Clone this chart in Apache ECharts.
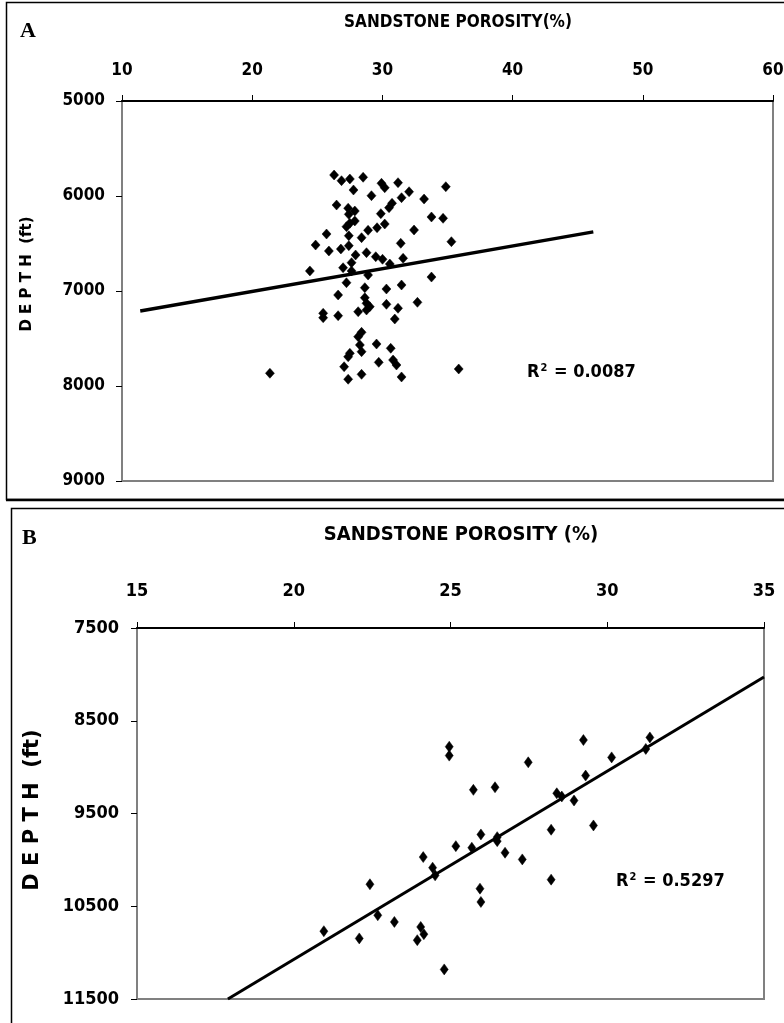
<!DOCTYPE html>
<html>
<head>
<meta charset="utf-8">
<script src="https://cdn.jsdelivr.net/npm/echarts@6/dist/echarts.min.js"></script>
<style>
  html, body { margin: 0; padding: 0; background: #fff; }
  #chart { width: 784px; height: 1023px; }
</style>
</head>
<body>
<div id="chart"></div>
<script>
// Panel A: porosity (%) vs depth (ft)
const porosityA = [
  26.29, 26.86, 27.50, 28.52, 27.78, 29.93, 30.18, 31.20, 29.16, 32.05,
  31.47, 33.20, 34.87, 30.74, 30.51, 26.48, 27.37, 27.88, 27.42, 29.88,
  33.77, 34.66, 27.88, 27.50, 27.24, 30.18, 29.59, 28.90, 32.43, 25.71,
  27.42, 28.40, 35.30, 24.87, 31.41, 25.89, 26.81, 27.42, 28.78, 27.94,
  29.49, 30.01, 31.59, 27.63, 30.57, 24.43, 26.98, 27.63, 28.90, 33.77,
  27.24, 28.65, 30.31, 31.47, 26.60, 28.65, 28.78, 29.03, 28.78, 28.14,
  30.31, 31.20, 32.69, 25.45, 25.45, 26.60, 30.95, 28.40, 28.14, 29.55,
  28.27, 28.40, 30.64, 27.50, 27.37, 29.72, 30.82, 31.08, 27.06, 21.36,
  35.86, 28.40, 27.37, 31.47
];
const depthA = [
  5779, 5839, 5821, 5803, 5937, 5866, 5913, 5860, 5997, 5955,
  6018, 6032, 5902, 6077, 6123, 6095, 6129, 6158, 6193, 6186,
  6221, 6235, 6263, 6287, 6323, 6295, 6334, 6361, 6358, 6400,
  6418, 6439, 6481, 6516, 6498, 6579, 6558, 6523, 6597, 6621,
  6639, 6666, 6656, 6702, 6716, 6789, 6755, 6789, 6832, 6853,
  6913, 6965, 6979, 6937, 7042, 7071, 7129, 7165, 7200, 7218,
  7140, 7182, 7119, 7235, 7281, 7260, 7295, 7435, 7481, 7558,
  7568, 7639, 7603, 7656, 7692, 7751, 7726, 7779, 7797, 7866,
  7821, 7877, 7929, 7905
];
// Linear fit for panel A: depth = intercept + slope * porosity
const fitA = { slope: -23.9, intercept: 7482, from: 11.4, to: 46.2 };
const r2A = '0.0087';
const xTicksA = { min: 10, max: 60, interval: 10 };
const yTicksA = { min: 5000, max: 9000, interval: 1000 };

// Panel B: porosity (%) vs depth (ft)
const porosityB = [
  20.96, 22.09, 22.43, 22.68, 23.21, 24.05, 24.15, 23.94, 24.80, 24.13,
  24.43, 24.51, 24.96, 24.96, 25.73, 26.42, 25.97, 25.94, 25.97, 26.49,
  26.49, 26.74, 27.29, 27.48, 28.21, 28.21, 28.39, 28.55, 28.94, 29.24,
  29.31, 29.56, 30.14, 31.23, 31.36, 25.17, 25.68
];
const depthB = [
  10769, 10847, 10263, 10597, 10669, 10723, 10801, 10866, 11181, 9970,
  10084, 10167, 8780, 8876, 9245, 9217, 9726, 10310, 10454, 9755,
  9798, 9923, 9995, 8948, 9675, 10213, 9282, 9317, 9360, 8708,
  9091, 9629, 8895, 8804, 8680, 9852, 9869
];
const fitB = { slope: -203, intercept: 15134, from: 17.9, to: 35 };
const r2B = '0.5297';
const xTicksB = { min: 15, max: 35, interval: 5 };
const yTicksB = { min: 7500, max: 11500, interval: 1000 };

const titleText = 'SANDSTONE POROSITY(%)';
const titleTextB = 'SANDSTONE POROSITY (%)';
const yName = 'D E P T H  (ft)';

const pts = (xs, ys) => xs.map((x, i) => [x, ys[i]]);
const fitLine = f => [[f.from, f.intercept + f.slope * f.from], [f.to, f.intercept + f.slope * f.to]];

const numFont = '"Liberation Sans Narrow", "DejaVu Sans Condensed", "Liberation Sans", sans-serif';
const gray = '#808080';
const plain = v => String(v);

function xAxisCfg(idx, t, size, margin) {
  return {
    gridIndex: idx, type: 'value', position: 'top',
    min: t.min, max: t.max, interval: t.interval,
    axisLine: { show: true, onZero: false, lineStyle: { color: '#000', width: 2 } },
    axisTick: { show: true, length: 6, lineStyle: { color: '#000', width: 1 } },
    axisLabel: { show: true, color: '#000', fontFamily: numFont, fontWeight: 'bold', fontSize: size, margin: margin, formatter: plain },
    splitLine: { show: false }
  };
}
function yAxisCfg(idx, t, size, margin) {
  return {
    gridIndex: idx, type: 'value', inverse: true,
    min: t.min, max: t.max, interval: t.interval,
    axisLine: { show: true, onZero: false, lineStyle: { color: gray, width: 2 } },
    axisTick: { show: true, length: 6, lineStyle: { color: '#000', width: 1 } },
    axisLabel: { show: true, color: '#000', fontFamily: numFont, fontWeight: 'bold', fontSize: size, margin: margin, formatter: plain },
    splitLine: { show: false }
  };
}

function r2Label(value, size) {
  return {
    text: '{r|R}{s|2}{r| = ' + value + '}',
    rich: {
      r: { fontFamily: numFont, fontWeight: 'bold', fontSize: size, fill: '#000', verticalAlign: 'bottom' },
      s: { fontFamily: numFont, fontWeight: 'bold', fontSize: Math.round(size * 0.6), fill: '#000', verticalAlign: 'top', padding: [0, 1, 0, 1] }
    }
  };
}

const markStyle = { color: '#000', borderColor: '#000', borderWidth: 0.5, opacity: 1 };

const chart = echarts.init(document.getElementById('chart'), null, { renderer: 'canvas' });
chart.setOption({
  backgroundColor: '#fff',
  animation: false,
  grid: [
    { left: 122, right: 11, top: 101, bottom: 542, show: true, borderColor: gray, borderWidth: 2, containLabel: false, outerBoundsMode: 'none' },
    { left: 137, right: 20, top: 628, bottom: 24, show: true, borderColor: gray, borderWidth: 2, containLabel: false, outerBoundsMode: 'none' }
  ],
  xAxis: [xAxisCfg(0, xTicksA, 17, 22), xAxisCfg(1, xTicksB, 18, 28)],
  yAxis: [yAxisCfg(0, yTicksA, 17, 17), yAxisCfg(1, yTicksB, 18, 18)],
  series: [
    {
      type: 'scatter', xAxisIndex: 0, yAxisIndex: 0,
      data: pts(porosityA, depthA), symbol: 'diamond', symbolSize: [9, 10],
      itemStyle: markStyle, z: 3
    },
    {
      type: 'line', xAxisIndex: 0, yAxisIndex: 0,
      data: fitLine(fitA), symbol: 'none',
      lineStyle: { color: '#000', width: 3.5 }, z: 2
    },
    {
      type: 'scatter', xAxisIndex: 1, yAxisIndex: 1,
      data: pts(porosityB, depthB), symbol: 'diamond', symbolSize: [8, 11],
      itemStyle: markStyle, z: 3
    },
    {
      type: 'line', xAxisIndex: 1, yAxisIndex: 1,
      data: fitLine(fitB), symbol: 'none', clip: true,
      lineStyle: { color: '#000', width: 3 }, z: 2
    }
  ],
  graphic: [
    // panel frames
    { type: 'rect', shape: { x: 6.5, y: 2.5, width: 790, height: 497 }, style: { fill: 'none', stroke: '#000', lineWidth: 1.5 }, silent: true },
    { type: 'line', shape: { x1: 6, y1: 500, x2: 784, y2: 500 }, style: { stroke: '#000', lineWidth: 2.5 }, silent: true },
    { type: 'rect', shape: { x: 11.5, y: 508.5, width: 790, height: 530 }, style: { fill: 'none', stroke: '#000', lineWidth: 1.5 }, silent: true },
    // panel letters
    { type: 'text', left: 20, top: 20, style: { text: 'A', fontFamily: '"Liberation Serif", serif', fontWeight: 'bold', fontSize: 22, fill: '#000' } },
    { type: 'text', left: 22, top: 527, style: { text: 'B', fontFamily: '"Liberation Serif", serif', fontWeight: 'bold', fontSize: 22, fill: '#000' } },
    // axis titles
    { type: 'text', x: 458, y: 23, style: { text: titleText, fontFamily: numFont, fontWeight: 'bold', fontSize: 17, fill: '#000', align: 'center', verticalAlign: 'middle' } },
    { type: 'text', x: 461, y: 535, style: { text: titleTextB, fontFamily: numFont, fontWeight: 'bold', fontSize: 20, fill: '#000', align: 'center', verticalAlign: 'middle' } },
    { type: 'text', x: 27, y: 274, rotation: Math.PI / 2, style: { text: yName, fontFamily: '"DejaVu Sans", sans-serif', fontWeight: 'bold', fontSize: 15, fill: '#000', align: 'center', verticalAlign: 'middle' } },
    { type: 'text', x: 33, y: 810, rotation: Math.PI / 2, style: { text: yName, fontFamily: '"DejaVu Sans", sans-serif', fontWeight: 'bold', fontSize: 21, fill: '#000', align: 'center', verticalAlign: 'middle' } },
    // goodness of fit
    { type: 'text', left: 527, top: 363, style: r2Label(r2A, 18) },
    { type: 'text', left: 616, top: 872, style: r2Label(r2B, 18) }
  ]
});
</script>
</body>
</html>
